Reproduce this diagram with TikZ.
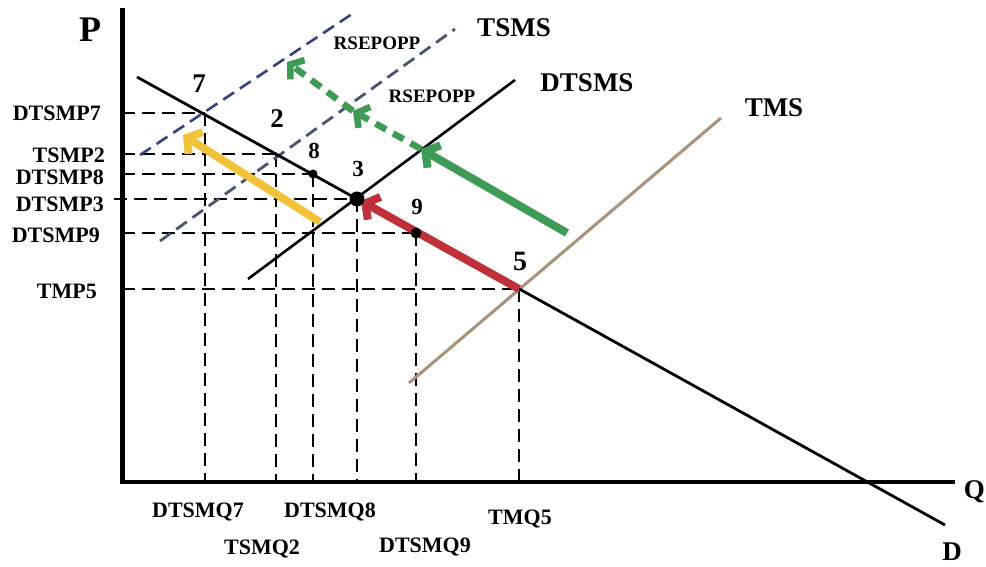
\documentclass[tikz,border=0pt]{standalone}
\usepackage{fontspec}
\setmainfont{Liberation Serif}
\usetikzlibrary{arrows.meta}
\definecolor{ayellow}{HTML}{F2C33A}
\definecolor{ared}{HTML}{C0303A}
\definecolor{agreen}{HTML}{3E9B55}
\definecolor{tan}{HTML}{A8927A}
\definecolor{slate}{HTML}{4A5570}
\definecolor{navy}{HTML}{34437F}
\begin{document}
\begin{tikzpicture}[x=1pt,y=-1pt,
  lbl/.style={font=\bfseries\fontsize{22}{22}\selectfont, inner sep=0pt},
  big/.style={font=\bfseries\fontsize{27}{27}\selectfont, inner sep=0pt},
  num/.style={font=\bfseries\fontsize{23}{23}\selectfont, inner sep=0pt},
  smalllbl/.style={font=\bfseries\fontsize{19}{19}\selectfont, inner sep=0pt},
  guide/.style={dash pattern=on 13pt off 7pt, line width=1.8pt},
  curve/.style={line width=2.6pt},
  fatarrow/.style={line width=8pt, -{Straight Barb[length=10pt, width=26pt]}},
  greendash/.style={agreen, line width=6.5pt, dash pattern=on 12pt off 8pt, -{Straight Barb[length=9pt, width=24pt]}}]
\useasboundingbox[fill=white] (0,0) rectangle (986,567);

% key points
\coordinate (p7) at (205,113);
\coordinate (p2) at (276,154);
\coordinate (p8) at (313,174);
\coordinate (p3) at (357,199);
\coordinate (p9) at (416,233);
\coordinate (p5) at (519,289);

% guide lines (horizontal)
\coordinate (a7) at (122,113);
\coordinate (a2) at (122,154);
\coordinate (a8) at (122,174);
\coordinate (a3) at (114,199);
\coordinate (a9) at (122,233);
\coordinate (a5) at (122,289);
\draw[guide] (a7) -- (p7);
\draw[guide] (a2) -- (p2);
\draw[guide] (a8) -- (p8);
\draw[guide] (a3) -- (p3);
\draw[guide] (a9) -- (p9);
\draw[guide] (a5) -- (p5);
% guide lines (vertical)
\coordinate (b7) at (205,482);
\coordinate (b2) at (276,482);
\coordinate (b8) at (313,482);
\coordinate (b3) at (357,482);
\coordinate (b9) at (416,482);
\coordinate (b5) at (519,482);
\draw[guide] (p7) -- (b7);
\draw[guide] (p2) -- (b2);
\draw[guide] (p8) -- (b8);
\draw[guide] (p3) -- (b3);
\draw[guide] (p9) -- (b9);
\draw[guide] (p5) -- (b5);

% axes
\coordinate (ytop) at (122,8);
\coordinate (ybot) at (122,484);
\coordinate (xl) at (120,482);
\coordinate (xr) at (955,482);
\draw[line width=5pt] (ytop) -- (ybot);
\draw[line width=4pt] (xl) -- (xr);
\node[font=\bfseries\fontsize{36}{36}\selectfont, inner sep=0pt] (P) at (90,30) {P};
\node[big, anchor=east] (Q) at (985,492) {Q};
\node[big] (D) at (952,552) {D};

% supply curves
\coordinate (u1) at (140,155);
\coordinate (u2) at (352,14);
\draw[navy, line width=2.6pt, dash pattern=on 13pt off 7pt] (u1) -- (u2);
\coordinate (t1) at (160,241);
\coordinate (t2) at (455,29);
\draw[slate, line width=2.8pt, dash pattern=on 13pt off 7pt] (t1) -- (t2);
\coordinate (s1) at (248,279);
\coordinate (s2) at (515,80);
\draw[curve] (s1) -- (s2);
\coordinate (m1) at (409,383);
\coordinate (m2) at (721,118);
\draw[tan, line width=3pt] (m1) -- (m2);

% demand
\coordinate (d1) at (137,77);
\coordinate (d2) at (945,525);
\draw[line width=2.8pt] (d1) -- (d2);

% arrows
\coordinate (ys) at (320,222);
\coordinate (ye) at (183,135);
\draw[fatarrow, ayellow] (ys) -- (ye);
\coordinate (re) at (361,201);
\draw[fatarrow, ared] (p5) -- (re);
\coordinate (gs) at (567,233);
\coordinate (ge) at (421,149);
\draw[fatarrow, agreen] (gs) -- (ge);
\coordinate (g2) at (353,111);
\coordinate (g3) at (287,62);
\draw[greendash] (ge) -- (g2);
\draw[greendash] (g2) -- (g3);

% dots
\fill (p8) circle (4.5);
\fill (p3) circle (7.5);
\fill (p9) circle (5.5);

% point labels
\node[num, font=\bfseries\fontsize{27}{27}\selectfont] (l7) at (199,84) {7};
\node[num, font=\bfseries\fontsize{27}{27}\selectfont] (l2) at (277,119) {2};
\node[num] (l8) at (314,151) {8};
\node[num] (l3) at (358,169) {3};
\node[num] (l9) at (417,207) {9};
\node[num, font=\bfseries\fontsize{28}{28}\selectfont] (l5) at (520,261) {5};

% curve labels
\node[big] (tsms) at (514,28) {TSMS};
\node[big] (dtsms) at (587,83) {DTSMS};
\node[big] (tms) at (774,108) {TMS};
\node[smalllbl] (r1) at (377,43) {RSEPOPP};
\node[smalllbl] (r2) at (432,96) {RSEPOPP};

% price labels
\node[lbl, anchor=east] (lp7) at (101,113) {DTSMP7};
\node[lbl, anchor=east] (lp2) at (105,155) {TSMP2};
\node[lbl, anchor=east] (lp8) at (104,177) {DTSMP8};
\node[lbl, anchor=east] (lp3) at (104,204) {DTSMP3};
\node[lbl, anchor=east] (lp9) at (100,235) {DTSMP9};
\node[lbl, anchor=east] (lp5) at (97,291) {TMP5};

% quantity labels
\node[lbl] (lq7) at (198,512) {DTSMQ7};
\node[lbl] (lq2) at (262,549) {TSMQ2};
\node[lbl] (lq8) at (330,512) {DTSMQ8};
\node[lbl] (lq9) at (425,547) {DTSMQ9};
\node[lbl] (lq5) at (520,519) {TMQ5};
\end{tikzpicture}
\end{document}
